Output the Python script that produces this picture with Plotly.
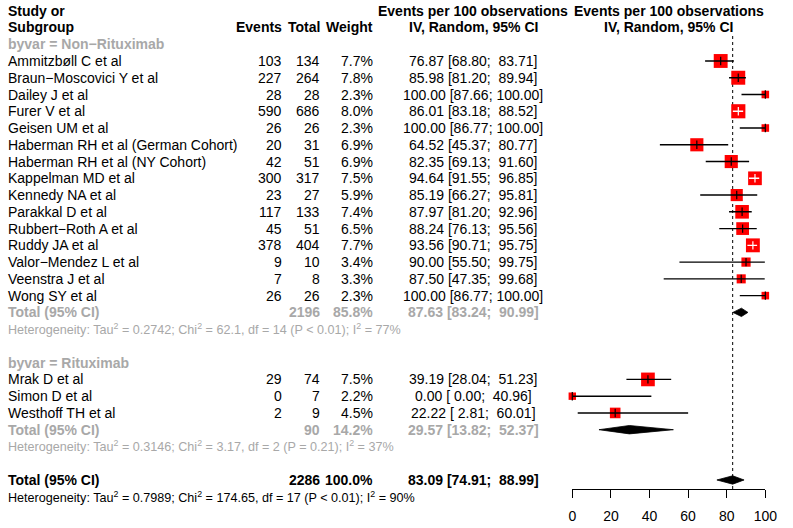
import plotly.graph_objects as go
import numpy as np

# ---------------- data ----------------
studies = ["Ammitzbøll C et al", "Braun−Moscovici Y et al", "Dailey J et al", "Furer V et al",
           "Geisen UM et al", "Haberman RH et al (German Cohort)", "Haberman RH et al (NY Cohort)",
           "Kappelman MD et al", "Kennedy NA et al", "Parakkal D et al", "Rubbert−Roth A et al",
           "Ruddy JA et al", "Valor−Mendez L et al", "Veenstra J et al", "Wong SY et al",
           "Mrak D et al", "Simon D et al", "Westhoff TH et al"]
groups = ["Non−Rituximab"] * 15 + ["Rituximab"] * 3
events = [103, 227, 28, 590, 26, 20, 42, 300, 23, 117, 45, 378, 9, 7, 26, 29, 0, 2]
totals = [134, 264, 28, 686, 26, 31, 51, 317, 27, 133, 51, 404, 10, 8, 26, 74, 7, 9]
weights = [7.7, 7.8, 2.3, 8.0, 2.3, 6.9, 6.9, 7.5, 5.9, 7.4, 6.5, 7.7, 3.4, 3.3, 2.3, 7.5, 2.2, 4.5]
est = [76.87, 85.98, 100.00, 86.01, 100.00, 64.52, 82.35, 94.64, 85.19, 87.97, 88.24, 93.56,
       90.00, 87.50, 100.00, 39.19, 0.00, 22.22]
lower = [68.80, 81.20, 87.66, 83.18, 86.77, 45.37, 69.13, 91.55, 66.27, 81.20, 76.13, 90.71,
         55.50, 47.35, 86.77, 28.04, 0.00, 2.81]
upper = [83.71, 89.94, 100.00, 88.52, 100.00, 80.77, 91.60, 96.85, 95.81, 92.96, 95.56, 95.75,
         99.75, 99.68, 100.00, 51.23, 40.96, 60.01]

subgroup_names = ["Non−Rituximab", "Rituximab"]
subgroup_totals = [2196, 90]
subgroup_weights = [85.8, 14.2]
subgroup_est = [87.63, 29.57]
subgroup_lower = [83.24, 13.82]
subgroup_upper = [90.99, 52.37]
subgroup_tau2 = ["0.2742", "0.3146"]
subgroup_chi2 = ["62.1", "3.17"]
subgroup_df = ["14", "2"]
subgroup_p = ["P < 0.01", "P = 0.21"]
subgroup_i2 = ["77%", "37%"]

overall_total = 2286
overall_weight = 100.0
overall_est, overall_lower, overall_upper = 83.09, 74.91, 88.99
overall_tau2, overall_chi2, overall_df, overall_p, overall_i2 = "0.7989", "174.65", "17", "P < 0.01", "90%"

x_ticks = [0, 20, 40, 60, 80, 100]

# ---------------- layout constants ----------------
W, H = 793, 528
ROW0_PX = 10.7
ROW_PX = 16.76
FONT = "Liberation Sans, Arial, Helvetica, sans-serif"
FS = 14
FS_HET = 12.6
GREY = "#A8A8A8"
NB = "\u00a0"

X_STUDY = 3
X_EVENTS = 285
X_TOTAL = 324
X_WEIGHT = 378
X_EST = 479
AX_L, AX_R = 580, 777
AX_Y = 489

def px(x):
    return x / W

def ci_text(e, lo, up):
    s = f"{e:.2f} [{lo:5.2f}; {up:6.2f}]"
    return s.replace(" ", NB)

def het_text(tau2, chi2, df, p, i2):
    return (f"Heterogeneity: Tau<sup>2</sup> = {tau2}; Chi<sup>2</sup> = {chi2}, "
            f"df = {df} ({p}); I<sup>2</sup> = {i2}")

annotations = []

def add_text(x, row, text, anchor="left", color="black", size=FS, bold=False):
    if bold:
        text = f"<b>{text}</b>"
    annotations.append(dict(x=px(x), xref="paper", y=row, yref="y", text=text,
                            xanchor=anchor, yanchor="middle", showarrow=False,
                            font=dict(family=FONT, size=size, color=color), borderpad=0))

# headers
add_text(X_STUDY, 0, "Study or", bold=True)
add_text(X_STUDY, 1, "Subgroup", bold=True)
add_text(X_EVENTS, 1, "Events", "right", bold=True)
add_text(X_TOTAL, 1, "Total", "right", bold=True)
add_text(X_WEIGHT, 1, "Weight", "right", bold=True)
add_text(X_EST, 0, "Events per 100 observations", "center", bold=True)
add_text(X_EST, 1, "IV, Random, 95% CI", "center", bold=True)
FOREST_C = (AX_L + AX_R) / 2
add_text(FOREST_C, 0, "Events per 100 observations", "center", bold=True)
add_text(FOREST_C, 1, "IV, Random, 95% CI", "center", bold=True)

# assign rows
study_rows = []
sub_rows = []
row = 2
for g, gname in enumerate(subgroup_names):
    add_text(X_STUDY, row, f"byvar = {gname}", color=GREY, bold=True)
    row += 1
    for i, s in enumerate(studies):
        if groups[i] != gname:
            continue
        study_rows.append(row)
        add_text(X_STUDY, row, s)
        add_text(X_EVENTS, row, str(events[i]), "right")
        add_text(X_TOTAL, row, str(totals[i]), "right")
        add_text(X_WEIGHT, row, f"{weights[i]:.1f}%", "right")
        add_text(X_EST, row, ci_text(est[i], lower[i], upper[i]), "center")
        row += 1
    sub_rows.append(row)
    add_text(X_STUDY, row, "Total (95% CI)", color=GREY, bold=True)
    add_text(X_TOTAL, row, str(subgroup_totals[g]), "right", color=GREY, bold=True)
    add_text(X_WEIGHT, row, f"{subgroup_weights[g]:.1f}%", "right", color=GREY, bold=True)
    add_text(X_EST, row, ci_text(subgroup_est[g], subgroup_lower[g], subgroup_upper[g]),
             "center", color=GREY, bold=True)
    row += 1
    add_text(X_STUDY, row, het_text(subgroup_tau2[g], subgroup_chi2[g], subgroup_df[g],
                                    subgroup_p[g], subgroup_i2[g]), color=GREY, size=FS_HET)
    row += 2

overall_row = row
add_text(X_STUDY, row, "Total (95% CI)", bold=True)
add_text(X_TOTAL, row, str(overall_total), "right", bold=True)
add_text(X_WEIGHT, row, f"{overall_weight:.1f}%", "right", bold=True)
add_text(X_EST, row, ci_text(overall_est, overall_lower, overall_upper), "center", bold=True)
add_text(X_STUDY, row + 1, het_text(overall_tau2, overall_chi2, overall_df, overall_p, overall_i2),
         size=FS_HET)

# ---------------- forest marks ----------------
fig = go.Figure()

px_per_unit = (AX_R - AX_L) / 100.0
sizes = [5.0 * np.sqrt(w) for w in weights]

fig.add_trace(go.Scatter(x=est, y=study_rows, mode="markers",
                         marker=dict(symbol="square", size=sizes, color="#FF0000", opacity=1,
                                     line=dict(width=0)),
                         cliponaxis=False, hoverinfo="skip", showlegend=False))

bx, by, wx, wy = [], [], [], []
tbx, tby, twx, twy = [], [], [], []
for i in range(len(studies)):
    half = sizes[i] / 2 / px_per_unit
    inside = lower[i] >= est[i] - half and upper[i] <= est[i] + half
    if inside:
        wx += [lower[i], upper[i], None]; wy += [study_rows[i]] * 2 + [None]
        twx.append(est[i]); twy.append(study_rows[i])
    else:
        bx += [lower[i], upper[i], None]; by += [study_rows[i]] * 2 + [None]
        tbx.append(est[i]); tby.append(study_rows[i])

fig.add_trace(go.Scatter(x=bx, y=by, mode="lines", line=dict(color="black", width=1.4),
                         hoverinfo="skip", showlegend=False))
fig.add_trace(go.Scatter(x=wx, y=wy, mode="lines", line=dict(color="white", width=1.4),
                         hoverinfo="skip", showlegend=False))
fig.add_trace(go.Scatter(x=tbx, y=tby, mode="markers",
                         marker=dict(symbol="line-ns", size=6, line=dict(color="black", width=1.2)),
                         cliponaxis=False, hoverinfo="skip", showlegend=False))
fig.add_trace(go.Scatter(x=twx, y=twy, mode="markers",
                         marker=dict(symbol="line-ns", size=6, line=dict(color="white", width=1.2)),
                         cliponaxis=False, hoverinfo="skip", showlegend=False))

DH = 0.25
dx, dy = [], []
for (e, lo, up, r) in zip(subgroup_est + [overall_est], subgroup_lower + [overall_lower],
                          subgroup_upper + [overall_upper], sub_rows + [overall_row]):
    dx += [lo, e, up, e, lo, None]
    dy += [r, r - DH, r, r + DH, r, None]
fig.add_trace(go.Scatter(x=dx, y=dy, mode="lines", fill="toself", fillcolor="black",
                         line=dict(color="black", width=0.8), hoverinfo="skip", showlegend=False))

fig.add_shape(type="line", xref="x", yref="paper", x0=overall_est, x1=overall_est,
              y0=(H - AX_Y) / H, y1=1 - 35 / H, line=dict(color="black", width=1, dash="dot"),
              layer="below")

r_top = -ROW0_PX / ROW_PX
r_bot = (H - ROW0_PX) / ROW_PX

fig.update_layout(
    width=W, height=H, margin=dict(l=0, r=0, t=0, b=0), autosize=False,
    paper_bgcolor="white", plot_bgcolor="white",
    font=dict(family=FONT, size=FS, color="black"),
    annotations=annotations, showlegend=False,
    xaxis=dict(domain=[AX_L / W, AX_R / W], range=[0, 100], anchor="free",
               position=(H - AX_Y) / H, showline=True, linecolor="black", linewidth=1,
               ticks="outside", ticklen=8, tickwidth=1, tickcolor="black",
               tickvals=x_ticks, ticktext=[str(t) for t in x_ticks],
               tickfont=dict(family=FONT, size=FS, color="black"),
               ticklabelstandoff=6,
               showgrid=False, zeroline=False, fixedrange=True),
    yaxis=dict(domain=[0, 1], range=[r_bot, r_top], visible=False, showgrid=False,
               zeroline=False, fixedrange=True),
)

post = (
    "document.documentElement.style.overflow='hidden';"
    "document.body.style.margin='0';document.body.style.padding='0';"
    "document.body.style.overflow='hidden';"
)
fig.write_html("out.html", config={"displayModeBar": False, "responsive": False}, post_script=post)
